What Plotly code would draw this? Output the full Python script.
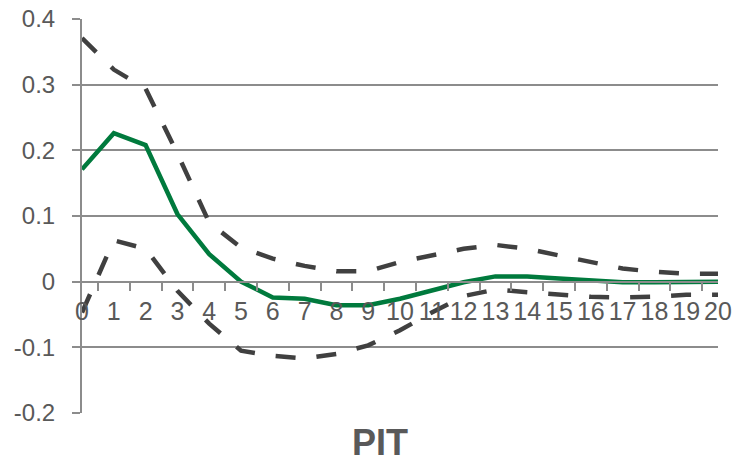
import plotly.graph_objects as go

# Impulse response horizon (periods) and estimated response with confidence bands
periods = [str(i) for i in range(21)]
response = [0.171, 0.226, 0.208, 0.103, 0.042, 0.000, -0.024, -0.026, -0.036, -0.036,
            -0.026, -0.014, -0.001, 0.008, 0.008, 0.005, 0.002, -0.001, -0.001, -0.001, 0.000]
upper_band = [0.371, 0.323, 0.294, 0.195, 0.090, 0.052, 0.035, 0.024, 0.016, 0.016,
              0.030, 0.040, 0.050, 0.056, 0.050, 0.040, 0.030, 0.020, 0.015, 0.012, 0.012]
lower_band = [-0.047, 0.063, 0.050, -0.014, -0.064, -0.105, -0.113, -0.117, -0.110, -0.097,
              -0.074, -0.047, -0.022, -0.012, -0.016, -0.020, -0.023, -0.024, -0.023, -0.020, -0.020]
y_ticks = [-0.2, -0.1, 0, 0.1, 0.2, 0.3, 0.4]
y_tick_text = ["-0.2", "-0.1", "0", "0.1", "0.2", "0.3", "0.4"]

FONT = "Arial, Liberation Sans, sans-serif"
TEXT = "#595959"
GRID = "#8c8c8c"
DASH_COLOR = "#404040"
GREEN = "#007a3d"

fig = go.Figure()
for band in (upper_band, lower_band):
    fig.add_trace(go.Scatter(x=periods, y=band, mode="lines",
                             line=dict(color=DASH_COLOR, width=4.5, dash="20px,21px"),
                             hoverinfo="skip"))
fig.add_trace(go.Scatter(x=periods, y=response, mode="lines",
                         line=dict(color=GREEN, width=4.5)))

fig.update_layout(
    width=733, height=462,
    margin=dict(l=82, r=1, t=19, b=49),
    paper_bgcolor="white", plot_bgcolor="white",
    showlegend=False,
    font=dict(family=FONT, color=TEXT, size=24),
    xaxis=dict(
        type="category", anchor="free", position=1 / 3,
        showgrid=False, zeroline=False,
        showline=True, linecolor=GRID, linewidth=2,
        ticks="outside", tickson="boundaries", ticklen=8, tickwidth=2, tickcolor=GRID,
        tickfont=dict(family=FONT, color=TEXT, size=25),
        tickangle=0, ticklabelstandoff=7,
    ),
    yaxis=dict(
        range=[-0.2, 0.4], tickvals=y_ticks, ticktext=y_tick_text,
        showgrid=True, gridcolor=GRID, gridwidth=2, zeroline=False,
        showline=True, linecolor=GRID, linewidth=2,
        ticks="outside", ticklen=8, tickwidth=2, tickcolor=GRID,
        tickfont=dict(family=FONT, color=TEXT, size=24),
        ticklabelstandoff=12,
    ),
    annotations=[dict(
        text="<b>PIT</b>", x=0.468, y=-0.074, xref="paper", yref="paper",
        xanchor="center", yanchor="middle", showarrow=False,
        font=dict(family=FONT, color=TEXT, size=36),
    )],
)

fig.write_html("out.html")
